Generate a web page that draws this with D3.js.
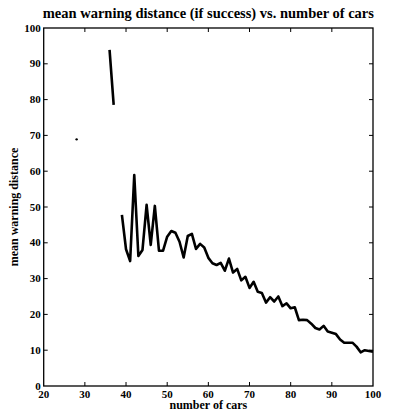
<!DOCTYPE html>
<html>
<head>
<meta charset="utf-8">
<script src="https://cdn.jsdelivr.net/npm/d3@7"></script>
<style>
  body { margin: 0; background: #fff; }
  text { font-family: "Liberation Serif", "Times New Roman", serif; font-weight: bold; fill: #000; }
</style>
</head>
<body>
<svg id="chart" width="399" height="414"></svg>
<script>
const title = "mean warning distance (if success) vs. number of cars";
const xLabel = "number of cars";
const yLabel = "mean warning distance";
const xTicks = [20, 30, 40, 50, 60, 70, 80, 90, 100];
const yTicks = [0, 10, 20, 30, 40, 50, 60, 70, 80, 90, 100];
const cars = [28, 29, 30, 31, 32, 33, 34, 35, 36, 37, 38, 39, 40, 41, 42, 43, 44, 45, 46, 47, 48, 49,
  50, 51, 52, 53, 54, 55, 56, 57, 58, 59, 60, 61, 62, 63, 64, 65, 66, 67, 68, 69,
  70, 71, 72, 73, 74, 75, 76, 77, 78, 79, 80, 81, 82, 83, 84, 85, 86, 87, 88, 89,
  90, 91, 92, 93, 94, 95, 96, 97, 98, 99, 100];
const distance = [68.9, null, null, null, null, null, null, null, 93.9, 78.5, null, 47.8, 38.2, 34.9, 58.9, 36.3, 38.0, 50.6, 39.4, 50.3, 37.8, 37.8,
  41.7, 43.3, 42.8, 40.3, 35.9, 41.9, 42.5, 38.3, 39.7, 38.7, 35.8, 34.3, 33.8, 34.4, 32.2, 35.6, 31.7, 32.7, 29.5, 30.5,
  27.4, 29.1, 26.3, 26.0, 23.3, 24.8, 23.6, 25.0, 22.3, 23.1, 21.7, 22.0, 18.4, 18.5, 18.4, 17.4, 16.2, 15.8, 16.8, 15.2,
  14.9, 14.5, 13.0, 12.1, 12.1, 12.1, 11.0, 9.4, 10.0, 9.8, 9.6];

const data = cars.map((c, i) => ({ x: c, y: distance[i] }));

const svg = d3.select("#chart");
const L = 43.7, R = 373, T = 28, B = 386;
const x = d3.scaleLinear().domain([20, 100]).range([L, R]);
const y = d3.scaleLinear().domain([0, 100]).range([B, T]);

// ticks (inward on all sides)
const tickLen = 4;
const g = svg.append("g");
const axisStyle = sel => sel.attr("stroke", "#000").attr("stroke-width", 1);

xTicks.forEach(t => {
  if (t !== 20 && t !== 100) {
    g.append("line").attr("x1", x(t)).attr("x2", x(t)).attr("y1", B).attr("y2", B - tickLen).call(axisStyle);
    g.append("line").attr("x1", x(t)).attr("x2", x(t)).attr("y1", T).attr("y2", T + tickLen).call(axisStyle);
  }
  g.append("text").attr("x", x(t)).attr("y", B + 12).attr("text-anchor", "middle")
    .attr("font-size", 11).text(t);
});
yTicks.forEach(t => {
  if (t !== 0 && t !== 100) {
    g.append("line").attr("x1", L).attr("x2", L + tickLen).attr("y1", y(t)).attr("y2", y(t)).call(axisStyle);
    g.append("line").attr("x1", R).attr("x2", R - tickLen).attr("y1", y(t)).attr("y2", y(t)).call(axisStyle);
  }
  g.append("text").attr("x", L - 3).attr("y", y(t) + 3.5).attr("text-anchor", "end")
    .attr("font-size", 11).text(t);
});

// frame
svg.append("rect").attr("x", L).attr("y", T).attr("width", R - L).attr("height", B - T)
  .attr("fill", "none").attr("stroke", "#000").attr("stroke-width", 1.3);

// line
const line = d3.line().defined(d => d.y != null).x(d => x(d.x)).y(d => y(d.y));
svg.append("path").datum(data).attr("d", line)
  .attr("fill", "none").attr("stroke", "#000").attr("stroke-width", 2.6)
  .attr("stroke-linejoin", "round");

// isolated points
data.forEach((d, i) => {
  if (d.y == null) return;
  const prev = data[i - 1], next = data[i + 1];
  if ((!prev || prev.y == null) && (!next || next.y == null)) {
    svg.append("circle").attr("cx", x(d.x)).attr("cy", y(d.y)).attr("r", 1.2).attr("fill", "#000");
  }
});

// labels
svg.append("text").attr("x", (L + R) / 2).attr("y", 18).attr("text-anchor", "middle")
  .attr("font-size", 14.5).text(title);
svg.append("text").attr("x", (L + R) / 2).attr("y", 409).attr("text-anchor", "middle")
  .attr("font-size", 12).text(xLabel);
svg.append("text").attr("transform", `translate(18,${(T + B) / 2}) rotate(-90)`)
  .attr("text-anchor", "middle").attr("font-size", 12).text(yLabel);
</script>
</body>
</html>
